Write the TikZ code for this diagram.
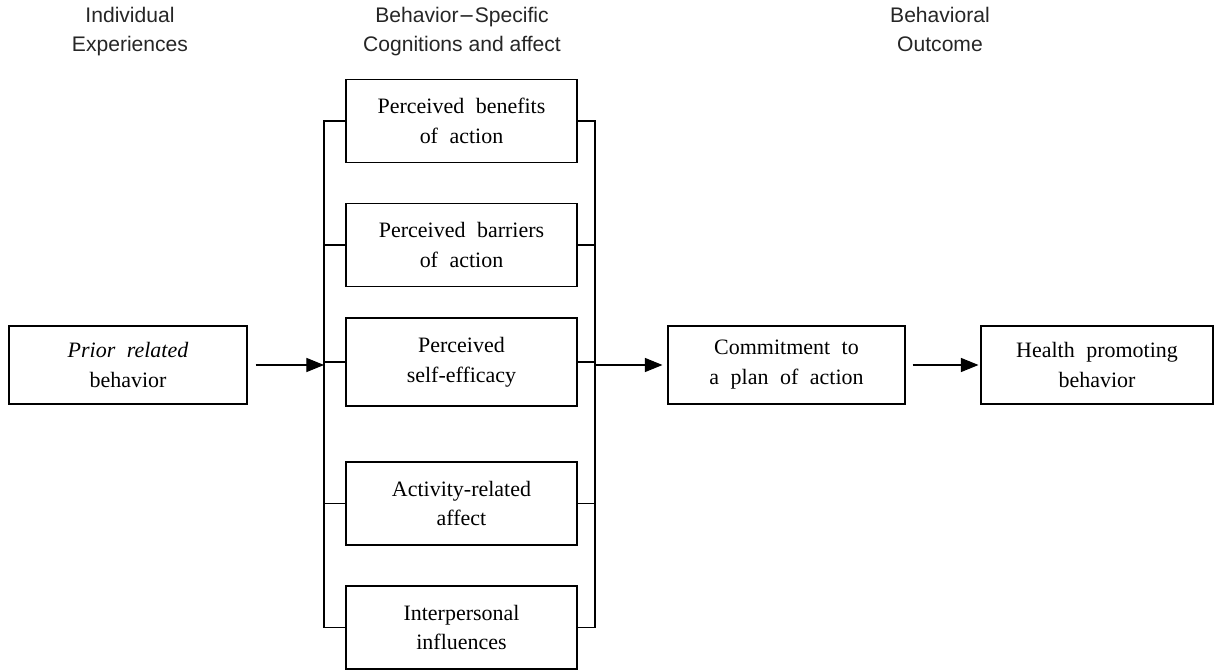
\documentclass[tikz,border=0pt]{standalone}
\usepackage{fontspec}
\setmainfont{Liberation Serif}[WordSpace=2.1]
\setsansfont{Liberation Sans}
\usepackage{tikz}
\usetikzlibrary{arrows.meta,positioning}
\tikzset{
    factor/.style={
                draw=black,
                line width=0.6pt,
                align=center,
                inner sep=0pt,
                minimum width=4.62cm,
                minimum height=1.66cm,
                font=\fontsize{12.5}{17}\selectfont
            },
        outcome/.style={
                factor,
                minimum width=4.74cm,
                minimum height=1.56cm
            },
        heading/.style={
                anchor=north,
                align=center,
                text=black!85,
                font=\sffamily\fontsize{12}{16.5}\selectfont
            },
        link/.style={
                line width=0.6pt
            },
        arrowlink/.style={
                link,
                -{Triangle[length=10pt,width=8pt]}
            }
}

\begin{document}
\begin{tikzpicture}
  \useasboundingbox (0,0) rectangle (24.3,-13.4);
  % Headings
  \node[heading] (hindiv) at (2.6,-0.02) {Individual\\Experiences};
  \node[heading] (hcogn) at (9.24,-0.02) {Behavior{\fontspec{DejaVu Sans}\fontsize{11}{16.5}\selectfont−}Specific\\Cognitions and affect};
  \node[heading] (hout) at (18.8,-0.02) {Behavioral\\Outcome};
  % Cognitions and affect
  \node[factor] (benefits) at (9.23,-2.42) {Perceived benefits\\of action};
  \node[factor] (barriers) at (9.23,-4.9) {Perceived barriers\\of action};
  \node[factor,minimum height=1.76cm] (selfeff) at (9.23,-7.24) {Perceived\\self-efficacy};
  \node[factor] (activity) at (9.23,-10.07) {Activity-related\\affect};
  \node[factor] (interp) at (9.23,-12.55) {Interpersonal\\influences};
  % Experiences and outcome
  \node[outcome,minimum width=4.76cm] (prior) at (2.56,-7.3) {\textit{Prior related}\\behavior};
  \node[outcome] (commit) at (15.73,-7.3) {Commitment to\\a plan of action};
  \node[outcome,minimum width=4.64cm] (health) at (21.94,-7.3) {Health promoting\\behavior};
  % Brackets
  \coordinate (lbr) at (6.48,-7.3);
  \coordinate (rbr) at (11.9,-7.3);
  \draw[link] (benefits.west) -- (benefits.west -| lbr) -- (interp.west -| lbr) -- (interp.west);
  \draw[link] (benefits.east) -- (benefits.east -| rbr) -- (interp.east -| rbr) -- (interp.east);
  \foreach \f in {barriers,selfeff,activity}
    \draw[link] (\f.west) -- (\f.west -| lbr) (\f.east) -- (\f.east -| rbr);
  % Arrows
  \draw[arrowlink] ([xshift=0.16cm]prior.east) -- (lbr);
  \draw[arrowlink] (rbr) -- ([xshift=-0.1cm]commit.west);
  \draw[arrowlink] ([xshift=0.14cm]commit.east) -- ([xshift=-0.04cm]health.west);
\end{tikzpicture}
\end{document}
